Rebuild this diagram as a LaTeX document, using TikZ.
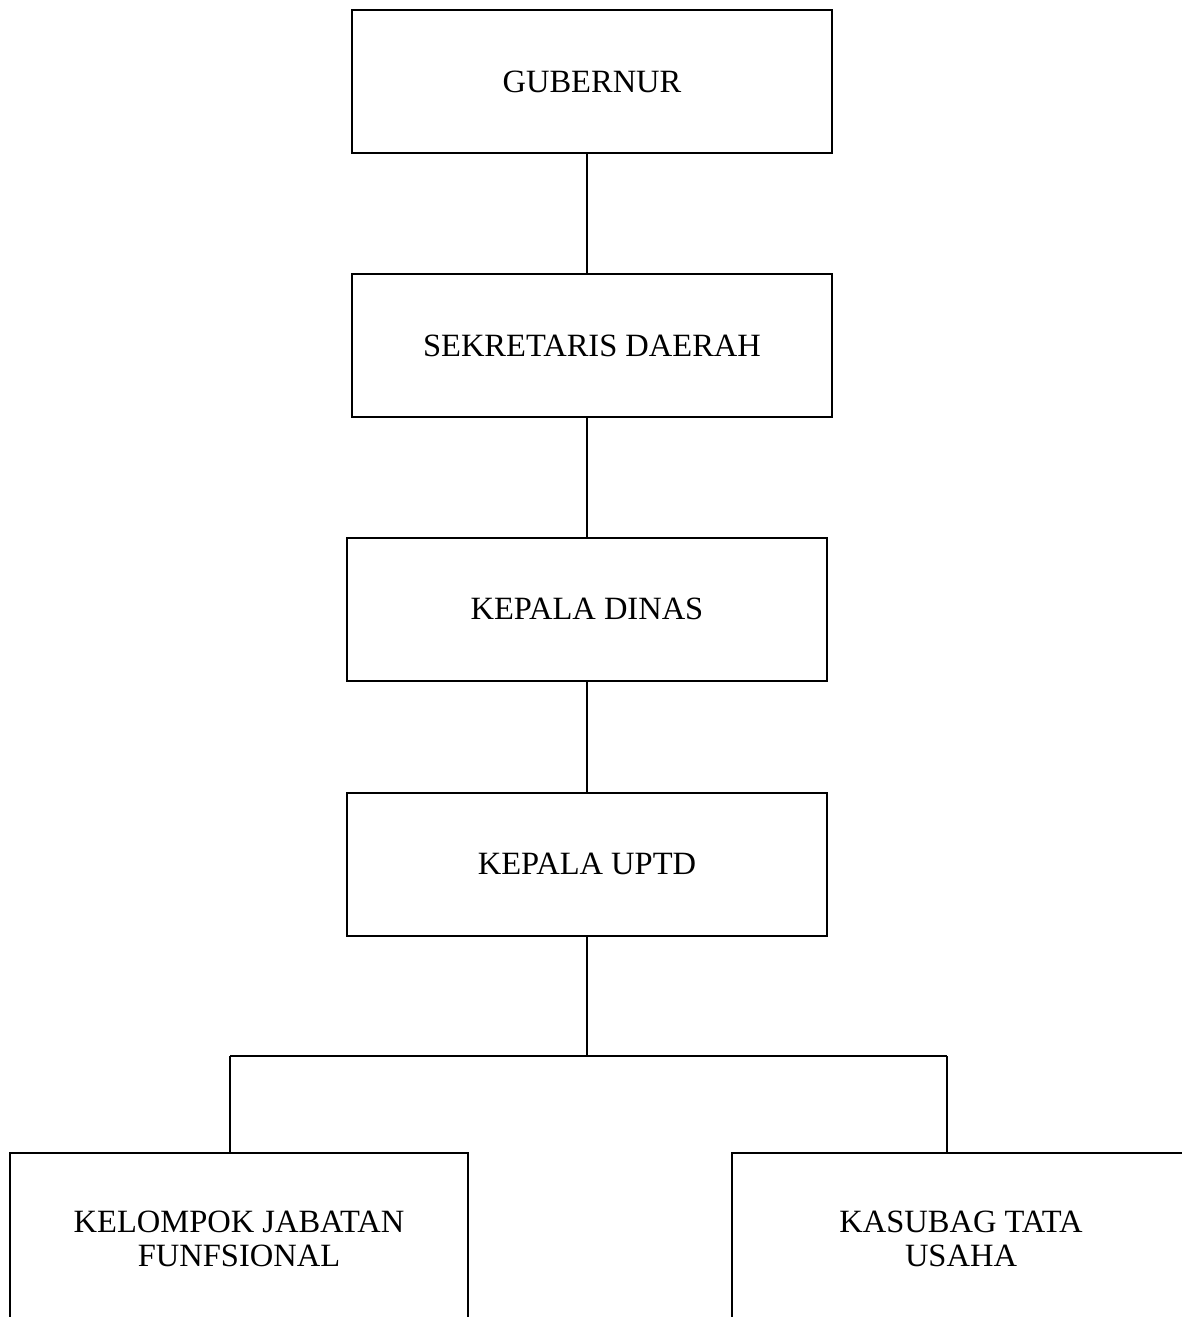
\documentclass[tikz,border=0pt]{standalone}
\usepackage{fontspec}
\setmainfont{Liberation Serif}
\usetikzlibrary{positioning}

\begin{document}
\begin{tikzpicture}[
  every node/.style={font=\fontsize{18.5}{19.5}\selectfont,align=center,},%
  box/.style={draw,line width=1.1pt,minimum width=9.6cm,minimum height=2.86cm,},%
  low/.style={box,minimum width=9.16cm,minimum height=3.46cm,},%
  e/.style={line width=1.1pt,},%
  node distance=2.38cm,
  ]
  \useasboundingbox (0,0) rectangle (23.64,-26.34);
  \clip (0,0) rectangle (23.64,-26.34);

  \node (gub) [box] at (11.84,-1.63) {GUBERNUR};
  \node (sek) [box,below=of gub] {SEKRETARIS DAERAH};
  \node (dinas) [box,below=of sek,xshift=-0.1cm] {KEPALA DINAS};
  \node (uptd) [box,below=2.2cm of dinas] {KEPALA UPTD};

  \node (jab) [low,below=4.3cm of uptd,xshift=-6.96cm
  ] {KELOMPOK JABATAN\\FUNFSIONAL};
  \node (tu) [low,below=4.3cm of uptd,xshift=7.48cm
  ] {KASUBAG TATA\\USAHA};

  % bus line
  \coordinate (bl) at (4.6,-21.12);
  \coordinate (br) at (18.94,-21.12);

  \draw [e] (gub.south -| dinas) -- (sek.north -| dinas);
  \draw [e] (sek.south -| dinas) -- (dinas);
  \draw [e] (dinas) -- (uptd);
  \draw [e] (uptd) -- (uptd |- bl);
  \draw [e] (bl) -- (br);
  \draw [e] (bl) -- (bl |- jab.north);
  \draw [e] (br) -- (br |- tu.north);
\end{tikzpicture}
\end{document}
